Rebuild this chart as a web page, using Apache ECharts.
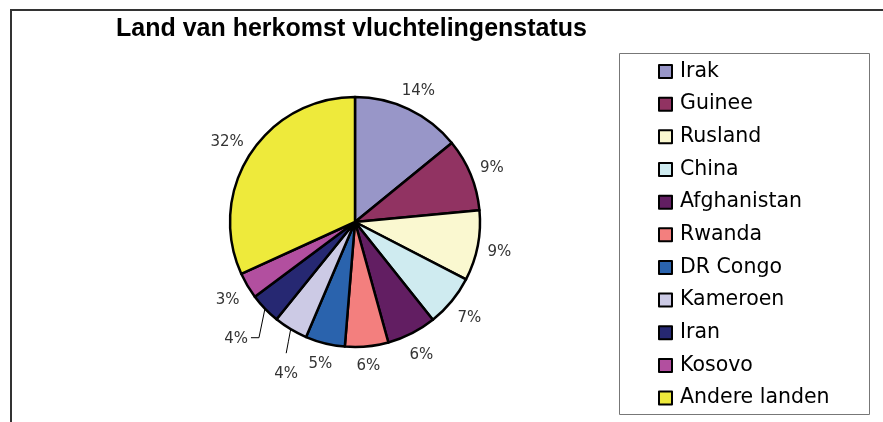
<!DOCTYPE html>
<html>
<head>
<meta charset="utf-8">
<script src="https://cdn.jsdelivr.net/npm/echarts@6/dist/echarts.min.js"></script>
<style>html,body{margin:0;padding:0;background:#fff;}#chart{width:883px;height:422px;}</style>
</head>
<body>
<div id="chart"></div>
<script>
const titleText = 'Land van herkomst vluchtelingenstatus';
const categories = ['Irak', 'Guinee', 'Rusland', 'China', 'Afghanistan', 'Rwanda', 'DR Congo', 'Kameroen', 'Iran', 'Kosovo', 'Andere landen'];
const values = [14.1, 9.4, 9.1, 6.7, 6.4, 5.6, 5.1, 4.4, 4.0, 3.4, 31.8];
const colors = ['#9896C8', '#913362', '#FAF8D0', '#CFEBF0', '#621E62', '#F37F7E', '#2A63AD', '#CCCAE5', '#262872', '#B24F9F', '#EEEA3B'];

const PIE_CENTER = [355, 222];
const PIE_R = 125;
const LEADER_ITEMS = ['Kameroen', 'Iran'];
const LABEL_DY = 2.5;

const chart = echarts.init(document.getElementById('chart'));
const data = categories.map((name, i) => {
  const item = { name: name, value: values[i], itemStyle: { color: colors[i] } };
  if (LEADER_ITEMS.indexOf(name) >= 0) {
    item.labelLine = { lineStyle: { opacity: 1 } };
  }
  return item;
});

function layoutLabel(params) {
  const pts = params.labelLinePoints;
  if (!pts) return {};
  const p0 = pts[0];
  let dx = p0[0] - PIE_CENTER[0], dy = p0[1] - PIE_CENTER[1];
  const len = Math.hypot(dx, dy) || 1;
  dx /= len; dy /= len;
  const name = categories[params.dataIndex];
  const w = params.labelRect.width, h = params.labelRect.height;
  if (name === 'Kameroen') {
    const p1 = [p0[0] - 4.5, p0[1] + 24];
    return { x: p1[0], y: p1[1] + 21, align: 'center', verticalAlign: 'middle',
      labelLinePoints: [p0, [(p0[0] + p1[0]) / 2, (p0[1] + p1[1]) / 2], p1] };
  }
  if (name === 'Iran') {
    const p1 = [p0[0] - 6, p0[1] + 29];
    const p2 = [p1[0] - 8, p1[1]];
    return { x: p2[0] - 3, y: p2[1] + 1.5, align: 'right', verticalAlign: 'middle',
      labelLinePoints: [p0, p1, p2] };
  }
  const d = PIE_R + 9 + Math.abs(dx) * w / 2 + Math.abs(dy) * h / 2;
  return {
    x: PIE_CENTER[0] + dx * d,
    y: PIE_CENTER[1] + dy * d + LABEL_DY,
    align: 'center', verticalAlign: 'middle',
    labelLinePoints: [p0, p0, p0]
  };
}

chart.setOption({
  animation: false,
  backgroundColor: '#fff',
  title: {
    text: titleText,
    left: 111,
    top: 12,
    textStyle: { fontFamily: 'Liberation Sans', fontWeight: 'bold', fontSize: 25, color: '#000' }
  },
  graphic: [
    { type: 'rect', shape: { x: 11, y: 10, width: 1000, height: 600 }, style: { fill: 'none', stroke: '#333', lineWidth: 2 }, silent: true, z: 0 },
    { type: 'rect', shape: { x: 619.5, y: 53.5, width: 250, height: 361 }, style: { fill: '#fff', stroke: '#777', lineWidth: 1 }, silent: true, z: 0 }
  ],
  legend: {
    orient: 'vertical',
    left: 653,
    top: 56,
    height: 362,
    itemWidth: 13,
    itemHeight: 13,
    itemGap: 11.66,
    icon: 'rect',
    selectedMode: false,
    z: 5,
    textStyle: { fontFamily: 'DejaVu Sans', fontSize: 20.5, lineHeight: 20, color: '#000', padding: [0, 0, 0, 3] },
    data: categories
  },
  series: [{
    type: 'pie',
    center: PIE_CENTER,
    radius: PIE_R,
    startAngle: 90,
    clockwise: true,
    avoidLabelOverlap: false,
    itemStyle: { borderColor: '#000', borderWidth: 2.5 },
    label: {
      show: true,
      position: 'outside',
      fontFamily: 'DejaVu Sans',
      fontSize: 15,
      color: '#333',
      formatter: p => Math.round(p.percent) + '%'
    },
    labelLine: { show: true, length: 10, length2: 0, lineStyle: { color: '#000', width: 1, opacity: 0 } },
    labelLayout: layoutLabel,
    emphasis: { disabled: true },
    data: data
  }]
});
</script>
</body>
</html>
